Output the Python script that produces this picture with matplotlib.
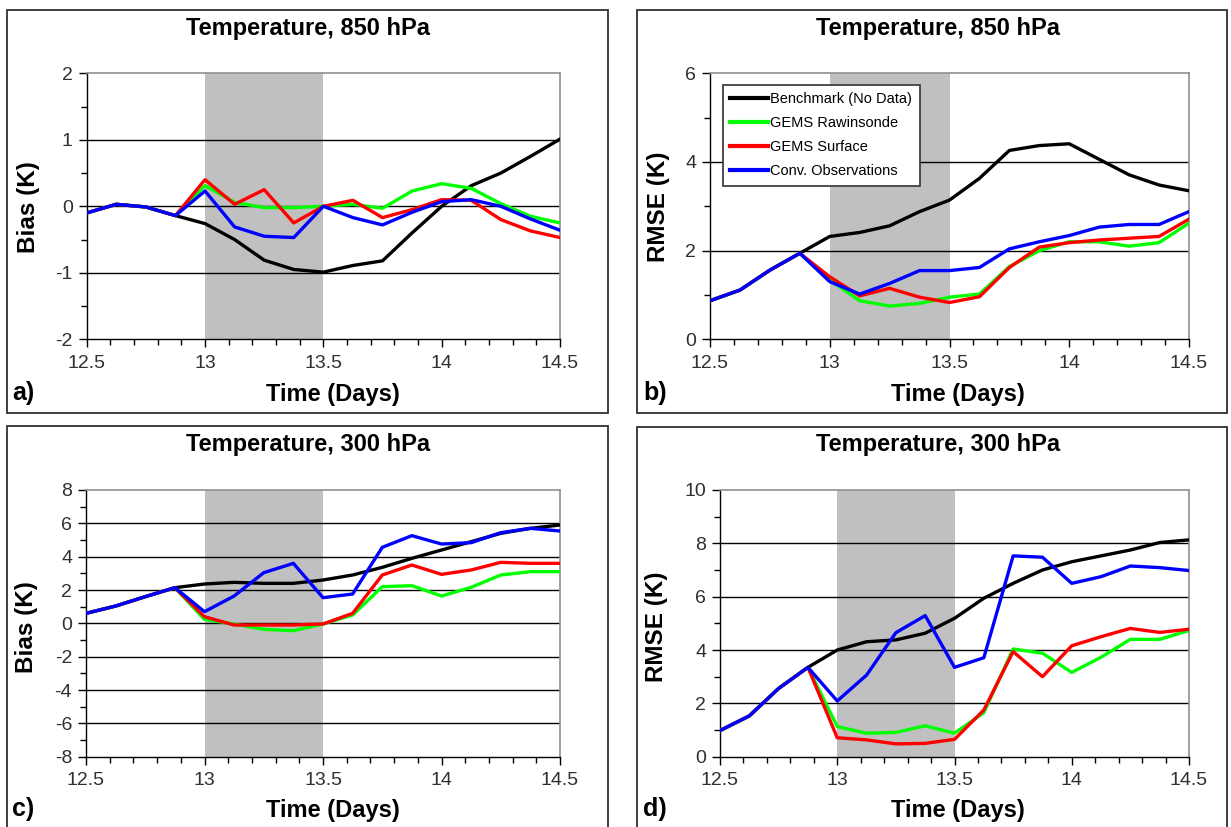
import matplotlib
matplotlib.use("Agg")
import matplotlib.pyplot as plt
from matplotlib.patches import Rectangle
from matplotlib.ticker import MultipleLocator, FuncFormatter
import numpy as np

plt.rcParams['font.family'] = ['Liberation Sans', 'DejaVu Sans']

time = [12.5, 12.625, 12.75, 12.875, 13.0, 13.125, 13.25, 13.375, 13.5,
        13.625, 13.75, 13.875, 14.0, 14.125, 14.25, 14.375, 14.5]
series_names = ["Benchmark (No Data)", "GEMS Rawinsonde", "GEMS Surface", "Conv. Observations"]
series_colors = ["#000000", "#00FF00", "#FF0000", "#0000FF"]

# a) Bias 850 hPa
a_bench = [-0.1, 0.03, -0.01, -0.14, -0.26, -0.5, -0.81, -0.95, -0.99, -0.89, -0.82, -0.4, 0.0, 0.31, 0.5, 0.75, 1.01]
a_raw   = [-0.1, 0.03, -0.01, -0.14, 0.31, 0.06, -0.02, -0.02, 0.0, 0.03, -0.03, 0.23, 0.34, 0.27, 0.04, -0.15, -0.25]
a_sfc   = [-0.1, 0.03, -0.01, -0.14, 0.4, 0.03, 0.25, -0.25, 0.0, 0.09, -0.17, -0.05, 0.1, 0.09, -0.2, -0.37, -0.47]
a_conv  = [-0.1, 0.03, -0.01, -0.14, 0.23, -0.31, -0.45, -0.47, 0.0, -0.17, -0.28, -0.09, 0.07, 0.1, 0.0, -0.19, -0.36]

# b) RMSE 850 hPa
b_bench = [0.87, 1.11, 1.56, 1.94, 2.32, 2.41, 2.56, 2.88, 3.14, 3.63, 4.26, 4.37, 4.41, 4.06, 3.71, 3.48, 3.35]
b_raw   = [0.87, 1.11, 1.56, 1.94, 1.34, 0.87, 0.75, 0.81, 0.95, 1.02, 1.64, 2.0, 2.2, 2.2, 2.1, 2.18, 2.62]
b_sfc   = [0.87, 1.11, 1.56, 1.94, 1.41, 0.98, 1.15, 0.95, 0.83, 0.96, 1.62, 2.08, 2.18, 2.24, 2.28, 2.32, 2.71]
b_conv  = [0.87, 1.11, 1.56, 1.94, 1.3, 1.02, 1.26, 1.55, 1.55, 1.62, 2.04, 2.2, 2.34, 2.53, 2.59, 2.59, 2.88]

# c) Bias 300 hPa
c_bench = [0.6, 1.04, 1.6, 2.14, 2.36, 2.46, 2.4, 2.4, 2.6, 2.9, 3.36, 3.9, 4.4, 4.9, 5.4, 5.7, 5.9]
c_raw   = [0.6, 1.04, 1.6, 2.14, 0.24, -0.04, -0.36, -0.44, -0.04, 0.5, 2.2, 2.26, 1.64, 2.16, 2.9, 3.1, 3.1]
c_sfc   = [0.6, 1.04, 1.6, 2.14, 0.4, -0.1, -0.1, -0.1, -0.04, 0.6, 2.9, 3.5, 2.94, 3.2, 3.66, 3.6, 3.6]
c_conv  = [0.6, 1.04, 1.6, 2.14, 0.7, 1.64, 3.04, 3.6, 1.54, 1.76, 4.56, 5.26, 4.76, 4.84, 5.44, 5.7, 5.54]

# d) RMSE 300 hPa
d_bench = [0.98, 1.53, 2.56, 3.35, 4.0, 4.31, 4.38, 4.63, 5.19, 5.94, 6.5, 7.0, 7.31, 7.53, 7.75, 8.03, 8.13]
d_raw   = [0.98, 1.53, 2.56, 3.35, 1.13, 0.88, 0.91, 1.16, 0.88, 1.65, 4.04, 3.88, 3.16, 3.73, 4.4, 4.4, 4.73]
d_sfc   = [0.98, 1.53, 2.56, 3.35, 0.71, 0.63, 0.48, 0.5, 0.65, 1.75, 3.94, 3.0, 4.16, 4.5, 4.81, 4.66, 4.78]
d_conv  = [0.98, 1.53, 2.56, 3.35, 2.09, 3.06, 4.65, 5.29, 3.35, 3.71, 7.53, 7.48, 6.5, 6.75, 7.15, 7.09, 6.98]

titles = ["Temperature, 850 hPa", "Temperature, 850 hPa", "Temperature, 300 hPa", "Temperature, 300 hPa"]
ylabels = ["Bias (K)", "RMSE (K)", "Bias (K)", "RMSE (K)"]
letters = ["a)", "b)", "c)", "d)"]
xlabel = "Time (Days)"
shade_start, shade_end = 13.0, 13.5

W, H = 1231, 827
fig = plt.figure(figsize=(W / 100, H / 100), dpi=100)

def fx(px):
    return px / W

def fy(py):
    return 1 - py / H

panels = [
    dict(data=[a_bench, a_raw, a_sfc, a_conv], ylim=(-2, 2), major=1, minor=0.5,
         box=(86.7, 73.3, 560, 339.3), frame=(7, 10, 608, 413),
         title_xy=(308, 28), xl_xy=(333, 394), yl_xy=(28, 207), let_xy=(12, 393)),
    dict(data=[b_bench, b_raw, b_sfc, b_conv], ylim=(0, 6), major=2, minor=1,
         box=(710, 73.3, 1189, 339.3), frame=(637, 10, 1227, 413),
         title_xy=(938, 28), xl_xy=(958, 394), yl_xy=(659, 207), let_xy=(643, 393)),
    dict(data=[c_bench, c_raw, c_sfc, c_conv], ylim=(-8, 8), major=2, minor=1,
         box=(86, 490, 560, 756.7), frame=(7, 426, 608, 830),
         title_xy=(308, 445), xl_xy=(333, 810), yl_xy=(27, 627), let_xy=(12, 809)),
    dict(data=[d_bench, d_raw, d_sfc, d_conv], ylim=(0, 10), major=2, minor=1,
         box=(720, 490, 1189, 756.7), frame=(637, 427, 1227, 830),
         title_xy=(938, 444), xl_xy=(958, 810), yl_xy=(657, 627), let_xy=(643, 809)),
]

for i, p in enumerate(panels):
    x0, y0, x1, y1 = p['box']
    ax = fig.add_axes([fx(x0), fy(y1), fx(x1) - fx(x0), fy(y0) - fy(y1)])
    ax.axvspan(shade_start, shade_end, color='#C0C0C0', lw=0, zorder=0)
    lo, hi = p['ylim']
    for v in np.arange(lo + p['major'], hi, p['major']):
        ax.axhline(v, color='black', lw=1.0, zorder=1)
    for s, name, col in zip(p['data'], series_names, series_colors):
        ax.plot(time, s, color=col, lw=2.4, label=name, zorder=3, solid_joinstyle='round')
    ax.set_xlim(12.5, 14.5)
    ax.set_ylim(lo, hi)
    ax.xaxis.set_major_locator(MultipleLocator(0.5))
    ax.xaxis.set_minor_locator(MultipleLocator(0.1))
    ax.yaxis.set_major_locator(MultipleLocator(p['major']))
    ax.yaxis.set_minor_locator(MultipleLocator(p['minor']))
    ax.xaxis.set_major_formatter(FuncFormatter(lambda v, _: ('%g' % v)))
    ax.yaxis.set_major_formatter(FuncFormatter(lambda v, _: ('%g' % v)))
    ax.tick_params(axis='both', which='major', direction='out', length=6, width=1,
                   labelsize=14, colors='black', labelcolor='#303030')
    ax.tick_params(axis='both', which='minor', direction='out', length=4, width=1)
    ax.tick_params(axis='x', which='major', pad=5)
    ax.tick_params(axis='y', which='major', pad=4)
    for sp in ['top', 'right']:
        ax.spines[sp].set_color('#909090')
        ax.spines[sp].set_linewidth(1.2)
    for sp in ['left', 'bottom']:
        ax.spines[sp].set_color('black')
        ax.spines[sp].set_linewidth(1.0)
    if i == 1:
        leg = ax.legend(loc='upper left', bbox_to_anchor=(0.012, 0.985), fontsize=10.5,
                        handlelength=2.6, handletextpad=0.15, borderpad=0.5,
                        labelspacing=0.7, fancybox=False, framealpha=1)
        leg.get_frame().set_edgecolor('#404040')
        leg.get_frame().set_linewidth(1.3)
        for ln in leg.get_lines():
            ln.set_linewidth(3)
    fx0, fy0, fx1, fy1 = p['frame']
    fig.add_artist(Rectangle((fx(fx0), fy(fy1)), fx(fx1) - fx(fx0), fy(fy0) - fy(fy1),
                             transform=fig.transFigure, fill=False, edgecolor='#303030', lw=1.3))
    tx, ty = p['title_xy']
    fig.text(fx(tx), fy(ty), titles[i], ha='center', va='center', fontsize=17, fontweight='bold')
    lx, ly = p['xl_xy']
    fig.text(fx(lx), fy(ly), xlabel, ha='center', va='center', fontsize=17, fontweight='bold')
    yx, yy = p['yl_xy']
    fig.text(fx(yx), fy(yy), ylabels[i], ha='center', va='center', fontsize=17.5,
             fontweight='bold', rotation=90)
    kx, ky = p['let_xy']
    fig.text(fx(kx), fy(ky), letters[i], ha='left', va='center', fontsize=18, fontweight='bold')

fig.savefig("out.png", dpi=100)
